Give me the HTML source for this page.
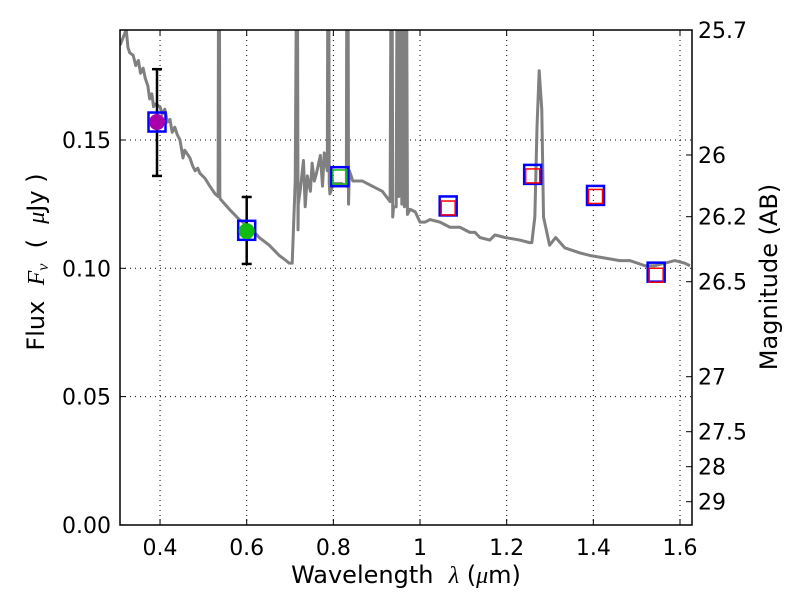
<!DOCTYPE html>
<html><head><meta charset="utf-8"><style>
body{margin:0;background:#fff;width:800px;height:600px;overflow:hidden}
text{font-family:"DejaVu Sans","Liberation Sans",sans-serif;fill:#000;white-space:pre}
</style></head><body>
<svg id="chart" width="800" height="600" xmlns="http://www.w3.org/2000/svg"></svg>
<script>
const specLam=[0.308,0.322,0.326,0.33,0.338,0.344,0.35,0.355,0.361,0.366,0.372,0.376,0.381,0.385,0.389,0.4,0.405,0.411,0.417,0.423,0.428,0.434,0.44,0.446,0.453,0.457,0.469,0.475,0.481,0.487,0.492,0.504,0.515,0.527,0.534,0.5355,0.5365,0.538,0.539,0.56,0.583,0.606,0.629,0.652,0.675,0.691,0.698,0.705,0.712,0.7165,0.7185,0.719,0.724,0.731,0.735,0.74,0.747,0.751,0.756,0.761,0.77,0.775,0.779,0.786,0.788,0.789,0.7905,0.792,0.796,0.8,0.82,0.83,0.8315,0.8335,0.835,0.837,0.845,0.867,0.89,0.913,0.931,0.934,0.935,0.937,0.939,0.945,0.948,0.949,0.951,0.953,0.956,0.958,0.96,0.962,0.964,0.966,0.968,0.971,0.977,0.989,1.0,1.012,1.023,1.046,1.069,1.092,1.115,1.127,1.138,1.161,1.173,1.196,1.23,1.253,1.258,1.265,1.27,1.275,1.281,1.285,1.299,1.313,1.334,1.369,1.392,1.426,1.461,1.484,1.502,1.519,1.542,1.565,1.588,1.611,1.623];
const specFlux=[0.187,0.193,0.186,0.184,0.183,0.179,0.181,0.176,0.178,0.174,0.171,0.166,0.168,0.163,0.164,0.163,0.160,0.162,0.157,0.158,0.153,0.155,0.152,0.150,0.143,0.146,0.143,0.140,0.138,0.139,0.137,0.135,0.132,0.129,0.128,0.26,0.26,0.128,0.127,0.123,0.119,0.116,0.112,0.109,0.105,0.103,0.102,0.102,0.134,0.26,0.115,0.125,0.131,0.142,0.124,0.136,0.130,0.141,0.134,0.137,0.144,0.132,0.145,0.138,0.26,0.26,0.133,0.129,0.131,0.133,0.133,0.132,0.26,0.26,0.125,0.138,0.134,0.134,0.132,0.130,0.126,0.26,0.26,0.120,0.124,0.124,0.26,0.26,0.128,0.26,0.26,0.125,0.26,0.26,0.124,0.26,0.26,0.121,0.123,0.122,0.118,0.118,0.119,0.118,0.116,0.116,0.114,0.114,0.112,0.111,0.113,0.112,0.111,0.110,0.110,0.120,0.155,0.177,0.162,0.120,0.109,0.112,0.108,0.106,0.105,0.104,0.103,0.103,0.102,0.101,0.101,0.102,0.103,0.102,0.101,0.100];
const photLam=[0.393,0.6];
const photFlux=[0.157,0.1145];
const photErrLo=[0.136,0.1017];
const photErrHi=[0.1776,0.1278];
const photColor=['#aa00aa','#11bb11'];
const modelLam=[0.393,0.6,0.815,1.065,1.26,1.405,1.545];
const modelFlux=[0.157,0.1148,0.1357,0.1243,0.1366,0.1284,0.0985];
const synthLam=[0.815,1.065,1.26,1.405,1.545];
const synthFlux=[0.1356,0.1235,0.136,0.128,0.0973];
const synthColor=['#11bb11','red','red','red','red'];
const xTicks=[0.4,0.6,0.8,1.0,1.2,1.4,1.6];
const xTickLabels=['0.4','0.6','0.8','1','1.2','1.4','1.6'];
const yTicks=[0,0.05,0.10,0.15];
const yTickLabels=['0.00','0.05','0.10','0.15'];
const magLabels=['25.7','26','26.2','26.5','27','27.5','28','29'];
const magTickY=[30,155,216.7,281.7,376.7,431.7,466.7,501.7];

const L=120,R=692,T=30,B=525;
const X=l=>246.7+(l-0.6)*433.3;
const Y=f=>524.9-f*2566;
const svg=document.getElementById('chart');
const NS='http://www.w3.org/2000/svg';
function mk(tag,attrs,parent){const e=document.createElementNS(NS,tag);for(const k in attrs)e.setAttribute(k,attrs[k]);(parent||svg).appendChild(e);return e;}
const defs=mk('defs',{});
const cp=mk('clipPath',{id:'clip'},defs);mk('rect',{x:L,y:T,width:R-L,height:B-T},cp);
xTicks.forEach((t,i)=>{
 const g=mk('line',{x1:X(t),x2:X(t),y1:T,y2:B,stroke:'#000','stroke-width':1,'stroke-dasharray':'1,4'});
 
 mk('line',{x1:X(t),x2:X(t),y1:B,y2:B-6,stroke:'#000'});
 mk('line',{x1:X(t),x2:X(t),y1:T,y2:T+6,stroke:'#000'});
 const tx=mk('text',{x:X(t),y:555,'font-size':22,'text-anchor':'middle'});tx.textContent=xTickLabels[i];
 
});
yTicks.forEach((t,i)=>{
 if(t>0){const g=mk('line',{x1:L,x2:R,y1:Y(t),y2:Y(t),stroke:'#000','stroke-width':1,'stroke-dasharray':'1,4'});
 }
 mk('line',{x1:L,x2:L+6,y1:Y(t),y2:Y(t),stroke:'#000'});
 const tx=mk('text',{x:111,y:Y(t)+8,'font-size':22,'text-anchor':'end'});tx.textContent=yTickLabels[i];
 
});
magLabels.forEach((m,i)=>{
 mk('line',{x1:R,x2:R-6,y1:magTickY[i],y2:magTickY[i],stroke:'#000'});
 const tx=mk('text',{x:698,y:magTickY[i]+8,'font-size':22});tx.textContent=m;
 
});
const sp=mk('polyline',{points:specLam.map((l,i)=>X(l)+','+Y(specFlux[i])).join(' '),fill:'none',stroke:'#808080','stroke-width':3,'stroke-linejoin':'round','clip-path':'url(#clip)'});


photLam.forEach((l,i)=>{
 const x=X(l);
 const e=mk('g',{stroke:'#000','stroke-width':2.5});
 
 
 mk('line',{x1:x,x2:x,y1:Y(photErrLo[i]),y2:Y(photErrHi[i])},e);
 mk('line',{x1:x-5,x2:x+5,y1:Y(photErrLo[i]),y2:Y(photErrLo[i])},e);
 mk('line',{x1:x-5,x2:x+5,y1:Y(photErrHi[i]),y2:Y(photErrHi[i])},e);
});
modelLam.forEach((l,i)=>{
 const r=mk('rect',{x:X(l)-8.5,y:Y(modelFlux[i])-9.5,width:17,height:19,fill:'none',stroke:'#0000ff','stroke-width':2.5});
 
 
});
photLam.forEach((l,i)=>{
 const c=mk('circle',{cx:X(l),cy:Y(photFlux[i]),r:8,fill:photColor[i]});
 
 
});
synthLam.forEach((l,i)=>{
 const r=mk('rect',{x:X(l)-7,y:Y(synthFlux[i])-7,width:14,height:14,fill:'none',stroke:synthColor[i],'stroke-width':1.5});
 
 
});
const fr=mk('rect',{x:L,y:T,width:R-L,height:B-T,fill:'none',stroke:'#000','stroke-width':1.5});


const xl=mk('text',{x:406,y:583,'font-size':24,'text-anchor':'middle'});
xl.innerHTML='Wavelength  <tspan font-style="italic" font-family="Liberation Serif">λ</tspan> (<tspan font-style="italic" font-family="Liberation Serif">μ</tspan>m)';


const yl=mk('text',{x:0,y:0,'font-size':24,'text-anchor':'middle',transform:'translate(44,262) rotate(-90)'});
yl.innerHTML='Flux  <tspan font-style="italic" font-family="Liberation Serif">F</tspan><tspan font-style="italic" font-family="Liberation Serif" font-size="16" dy="4">ν</tspan><tspan dy="-4">  (  </tspan><tspan font-style="italic" font-family="Liberation Serif">μ</tspan>Jy )';


const ml=mk('text',{x:0,y:0,'font-size':24,'text-anchor':'middle',transform:'translate(777,277) rotate(-90)'});
ml.textContent='Magnitude (AB)';


</script>
</body></html>
